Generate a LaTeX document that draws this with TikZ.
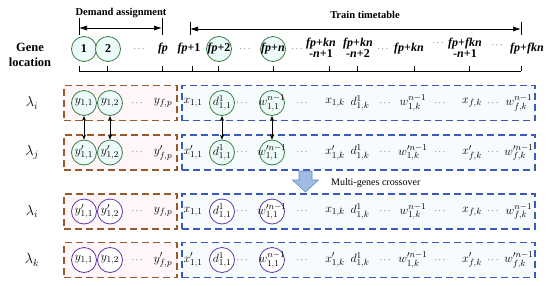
\documentclass[tikz,border=0pt]{standalone}
\usepackage{fontspec}
\setmainfont{Liberation Serif}
\usetikzlibrary{arrows.meta}
\definecolor{boxred}{RGB}{150,90,45}
\definecolor{boxblue}{RGB}{60,90,190}
\definecolor{gcol}{RGB}{60,125,65}
\definecolor{pcol}{RGB}{95,55,165}
\definecolor{cfill}{RGB}{236,250,250}
\definecolor{pinkfill}{RGB}{254,246,249}
\definecolor{bluefill}{RGB}{246,252,253}
\definecolor{arrfill}{RGB}{160,188,228}
\definecolor{arrdraw}{RGB}{105,135,185}
\newcommand{\gfp}{\textit{fp}}
\begin{document}
\begin{tikzpicture}[x=1pt,y=-1pt,
  every node/.style={inner sep=0pt},
  el/.style={font=\fontsize{13}{15}\selectfont},
  dt/.style={font=\fontsize{9}{10}\selectfont},
  gl/.style={font=\bfseries\fontsize{12}{11.5}\selectfont,align=center},
  gt/.style={font=\bfseries\fontsize{12.5}{15}\selectfont,align=center},
  hd/.style={font=\bfseries\fontsize{10.5}{12}\selectfont},
  circ/.style={circle,line width=0.8pt,minimum size=25pt,inner sep=-4pt},
  gc/.style={el,circ,draw=gcol,fill=cfill},
  pc/.style={el,circ,draw=pcol,fill=white},
  ggc/.style={gl,circ,draw=gcol,fill=cfill},
  rbox/.style={draw=boxred,fill=pinkfill,line width=1.1pt,dash pattern=on 7pt off 4pt,minimum width=113pt,minimum height=35pt},
  bbox/.style={draw=boxblue,fill=bluefill,line width=1.1pt,dash pattern=on 7pt off 4pt,minimum width=353pt,minimum height=35pt},
  dbl/.style={{Stealth[length=5pt,width=4pt]}-{Stealth[length=5pt,width=4pt]},line width=0.7pt},
  brk/.style={{Latex[length=8pt,width=5pt]}-{Latex[length=8pt,width=5pt]},line width=0.7pt},
  lam/.style={font=\fontsize{14}{16}\selectfont}
]
\useasboundingbox (0,0) rectangle (550,285);

% headings
\node[hd] (dahd) at (121,13) {Demand assignment};
\node[hd] (tthd) at (365,15) {Train timetable};
\coordinate (da1) at (79,28); \coordinate (da2) at (162,28);
\coordinate (tt1) at (190,29); \coordinate (tt2) at (521,29);
\draw[brk] (da1) -- (da2);
\draw[brk] (tt1) -- (tt2);
\draw[line width=0.7pt] (79,18) -- (79,35) (162,18) -- (162,35);
\draw[line width=0.7pt] (190,22) -- (190,35) (521,22) -- (521,35);

% gene location
\node[gt] (glab) at (30,54.5) {Gene\\location};
\node[ggc] (g1) at (84,49) {1};
\node[ggc] (g2) at (108,49) {2};
\node[dt] (gd1) at (139,49) {$\cdots$};
\node[gl] (g3) at (163,49) {\gfp};
\node[gl] (g4) at (189,49) {\gfp+1};
\node[ggc] (g5) at (219,49) {\gfp+2};
\node[dt] (gd2) at (245,49) {$\cdots$};
\node[ggc] (g6) at (273,49) {\gfp+\textit{n}};
\node[dt] (gd3) at (297,49) {$\cdots$};
\node[gl] (g7) at (321,48) {\gfp+\textit{kn}\\-\textit{n}+1};
\node[gl] (g8) at (358,48) {\gfp+\textit{kn}\\-\textit{n}+2};
\node[dt] (gd4) at (383,49) {$\cdots$};
\node[gl] (g9) at (409,49) {\gfp+\textit{kn}};
\node[dt] (gd5) at (438,43) {$\cdots$};
\node[gl] (g10) at (465,48) {\gfp+\textit{fkn}\\-\textit{n}+1};
\node[dt] (gd6) at (497,45) {$\cdots$};
\node[gl] (g11) at (527,49) {\gfp+\textit{fkn}};

% axis
\coordinate (ax1) at (79,71); \coordinate (ax2) at (521,71);
\draw[line width=0.7pt] (ax1) -- (ax2);
\foreach \t in {79,107,162,192,218,273,329,357,414,469,521}
  \draw[line width=0.7pt] (\t,71) -- (\t,66);

% row labels
\node[lam] (l1) at (32,103) {$\lambda_i$};
\node[lam] (l2) at (32,152.5) {$\lambda_j$};
\node[lam] (l3) at (32,211.5) {$\lambda_i$};
\node[lam] (l4) at (32,260) {$\lambda_k$};

% boxes
\node[rbox] (rb1) at (120.5,103) {};
\node[bbox] (bb1) at (358.5,103) {};
\node[rbox] (rb2) at (120.5,152.5) {};
\node[bbox] (bb2) at (358.5,152.5) {};
\node[rbox] (rb3) at (120.5,211.5) {};
\node[bbox] (bb3) at (358.5,211.5) {};
\node[rbox] (rb4) at (120.5,260) {};
\node[bbox] (bb4) at (358.5,260) {};

% row 1
\foreach \xx/\st/\tx/\nm in {
 84/gc/{$y_{1,1}$}/a, 110/gc/{$y_{1,2}$}/b, 137/dt/{$\cdots$}/c, 163/el/{$y_{f,p}$}/d,
 193/el/{$x_{1,1}$}/e, 222/gc/{$d^{1}_{1,1}$}/f, 242/dt/{$\cdots$}/g, 272/gc/{$w^{n-1}_{1,1}$}/h,
 302/dt/{$\cdots$}/i, 335/el/{$x_{1,k}$}/j, 360/el/{$d^{1}_{1,k}$}/k, 385/dt/{$\cdots$}/l,
 413/el/{$w^{n-1}_{1,k}$}/m, 440/dt/{$\cdots$}/n, 472/el/{$x_{f,k}$}/o, 493/dt/{$\cdots$}/p,
 519/el/{$w^{n-1}_{f,k}$}/q}
 \node[\st] (r1\nm) at (\xx,103) {\tx};

% row 2
\foreach \xx/\st/\tx/\nm in {
 84/gc/{$y'_{1,1}$}/a, 110/gc/{$y'_{1,2}$}/b, 137/dt/{$\cdots$}/c, 163/el/{$y'_{f,p}$}/d,
 193/el/{$x'_{1,1}$}/e, 222/gc/{$d^{1}_{1,1}$}/f, 242/dt/{$\cdots$}/g, 272/gc/{$w^{\prime n-1}_{1,1}$}/h,
 302/dt/{$\cdots$}/i, 335/el/{$x'_{1,k}$}/j, 360/el/{$d^{1}_{1,k}$}/k, 385/dt/{$\cdots$}/l,
 413/el/{$w^{\prime n-1}_{1,k}$}/m, 440/dt/{$\cdots$}/n, 472/el/{$x'_{f,k}$}/o, 493/dt/{$\cdots$}/p,
 519/el/{$w^{\prime n-1}_{f,k}$}/q}
 \node[\st] (r2\nm) at (\xx,152.5) {\tx};

% row 3
\foreach \xx/\st/\tx/\nm in {
 84/pc/{$y'_{1,1}$}/a, 110/pc/{$y'_{1,2}$}/b, 137/dt/{$\cdots$}/c, 163/el/{$y_{f,p}$}/d,
 193/el/{$x_{1,1}$}/e, 222/pc/{$d^{1}_{1,1}$}/f, 242/dt/{$\cdots$}/g, 272/pc/{$w^{\prime n-1}_{1,1}$}/h,
 302/dt/{$\cdots$}/i, 335/el/{$x_{1,k}$}/j, 360/el/{$d^{1}_{1,k}$}/k, 385/dt/{$\cdots$}/l,
 413/el/{$w^{n-1}_{1,k}$}/m, 440/dt/{$\cdots$}/n, 472/el/{$x_{f,k}$}/o, 493/dt/{$\cdots$}/p,
 519/el/{$w^{n-1}_{f,k}$}/q}
 \node[\st] (r3\nm) at (\xx,211.5) {\tx};

% row 4
\foreach \xx/\st/\tx/\nm in {
 84/pc/{$y_{1,1}$}/a, 110/pc/{$y_{1,2}$}/b, 137/dt/{$\cdots$}/c, 163/el/{$y'_{f,p}$}/d,
 193/el/{$x'_{1,1}$}/e, 222/pc/{$d^{1}_{1,1}$}/f, 242/dt/{$\cdots$}/g, 272/pc/{$w^{n-1}_{1,1}$}/h,
 302/dt/{$\cdots$}/i, 335/el/{$x'_{1,k}$}/j, 360/el/{$d^{1}_{1,k}$}/k, 385/dt/{$\cdots$}/l,
 413/el/{$w^{\prime n-1}_{1,k}$}/m, 440/dt/{$\cdots$}/n, 472/el/{$x'_{f,k}$}/o, 493/dt/{$\cdots$}/p,
 519/el/{$w^{\prime n-1}_{f,k}$}/q}
 \node[\st] (r4\nm) at (\xx,260) {\tx};

% crossover arrows
\draw[dbl] (r1a) -- (r2a);
\draw[dbl] (r1b) -- (r2b);
\draw[dbl] (r1f) -- (r2f);
\draw[dbl] (r1h) -- (r2h);

% block arrow
\draw[draw=arrdraw,fill=arrfill,line width=0.6pt]
  (299,171) -- (312,171) -- (312,180) -- (318.5,180) -- (305.5,192) -- (292.5,180) -- (299,180) -- cycle;
\node[anchor=west,font=\fontsize{10}{11}\selectfont] (mgc) at (331,183) {Multi-genes crossover};
\end{tikzpicture}
\end{document}
